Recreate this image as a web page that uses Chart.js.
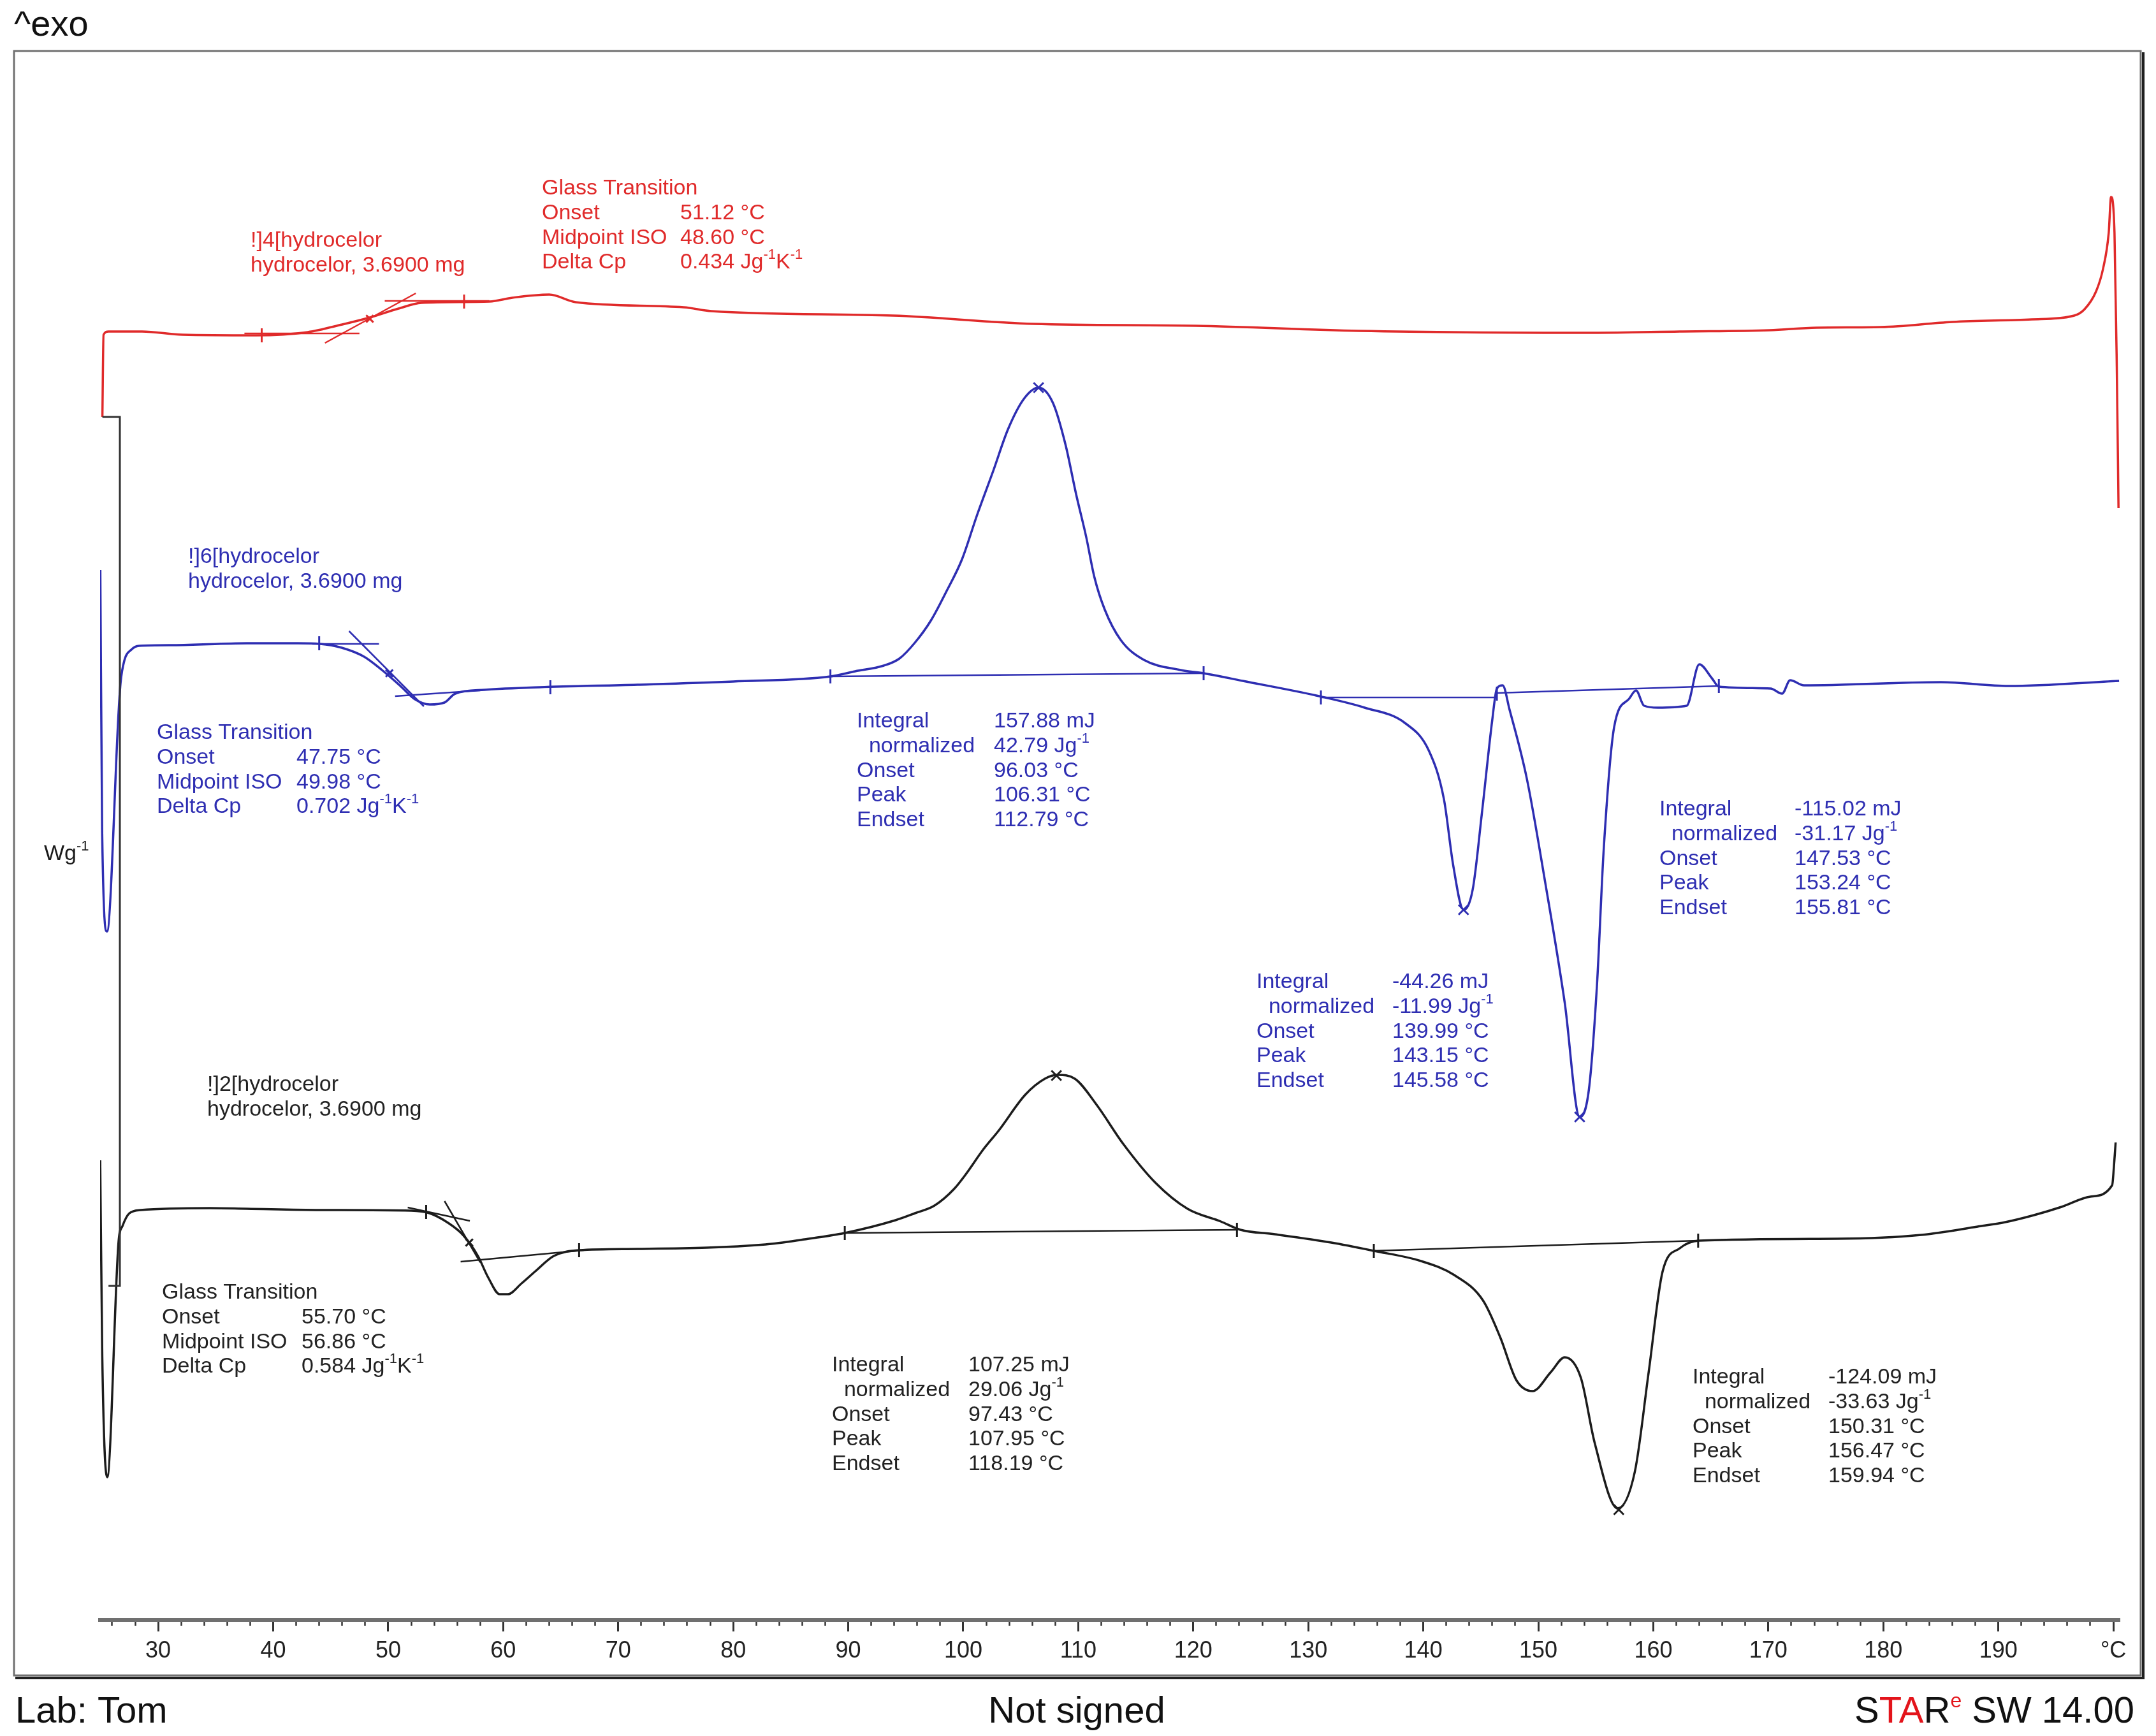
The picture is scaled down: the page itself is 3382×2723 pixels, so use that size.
<!DOCTYPE html>
<html>
<head>
<meta charset="utf-8">
<title>DSC hydrocelor</title>
<script src="https://cdn.jsdelivr.net/npm/chart.js@4.4.1/dist/chart.umd.min.js"></script>
<style>
  html, body { margin: 0; padding: 0; background: #fff; }
  canvas { display: block; }
</style>
</head>
<body>
<canvas id="dsc" width="3382" height="2723"></canvas>
<script>
// temperature axis (°C)
const X_MIN = 24.95;
const X_MAX = 200.55;
const MAJOR_TICKS = [30, 40, 50, 60, 70, 80, 90, 100, 110, 120, 130, 140, 150, 160, 170, 180, 190, 200];
const TICK_LABELS = ['30', '40', '50', '60', '70', '80', '90', '100', '110', '120', '130', '140', '150', '160', '170', '180', '190', '°C'];

// 1. red run (!]4)
const RED_T = [25.15, 25.25, 25.68, 28.6, 32.1, 38.5, 43.0, 46.0, 48.4, 50.9,
               52.9, 58.8, 60.8, 64.0, 66.3, 75.7, 78.1, 93.9, 106.1, 120.2,
               134.4, 154.8, 162.3, 170.1, 174.2, 179.8, 186.0, 192.9, 196.6, 197.5,
               198.5, 199.1, 199.6, 199.8, 200.1, 200.3, 200.45];
const RED_HF = [9.435, 10.08, 10.105, 10.105, 10.08, 10.075, 10.10, 10.16, 10.215, 10.285,
                10.33, 10.34, 10.37, 10.395, 10.335, 10.295, 10.265, 10.23, 10.165, 10.15,
                10.11, 10.095, 10.105, 10.115, 10.135, 10.14, 10.18, 10.20, 10.23, 10.28,
                10.42, 10.595, 10.88, 11.16, 10.88, 9.83, 8.72];

// 2. blue run (!]6)
const BLUE_T = [24.97, 25.13, 25.55, 26.56, 26.73, 27.06, 27.67, 28.34, 31.33, 37.7,
                42.14, 44.08, 45.96, 47.9, 49.46, 51.06, 52.34, 53.61, 54.89, 55.83,
                58.38, 63.15, 71.69, 80.0, 88.45, 90.6, 93.1, 94.45, 95.8, 97.2,
                98.5, 99.9, 101.2, 102.6, 103.9, 105.3, 106.55, 107.8, 108.9, 109.8,
                110.7, 111.4, 112.3, 113.7, 115.7, 118.9, 120.9, 124.3, 130.7, 134.9,
                138.4, 140.5, 141.8, 142.6, 143.5, 144.3, 145.1, 146.0, 146.4, 146.9,
                147.5, 149.0, 150.6, 152.3, 153.6, 154.4, 155.1, 155.7, 156.6, 157.9,
                158.5, 159.2, 160.4, 162.9, 164.0, 165.1, 165.7, 170.2, 171.2, 171.9,
                173.1, 185.0, 190.9, 200.5];
const BLUE_HF = [8.235, 6.175, 5.40, 7.12, 7.35, 7.525, 7.61, 7.64, 7.645, 7.66,
                 7.66, 7.655, 7.625, 7.555, 7.45, 7.325, 7.22, 7.18, 7.195, 7.265,
                 7.295, 7.315, 7.335, 7.36, 7.40, 7.44, 7.485, 7.54, 7.665, 7.84,
                 8.06, 8.32, 8.665, 9.01, 9.34, 9.58, 9.665, 9.545, 9.215, 8.835,
                 8.49, 8.18, 7.925, 7.685, 7.53, 7.45, 7.425, 7.365, 7.25, 7.155,
                 7.035, 6.815, 6.435, 5.92, 5.57, 5.73, 6.33, 7.06, 7.305, 7.33,
                 7.14, 6.60, 5.785, 4.84, 3.945, 4.16, 4.975, 6.06, 7.005, 7.225,
                 7.29, 7.17, 7.155, 7.17, 7.495, 7.385, 7.32, 7.305, 7.265, 7.37,
                 7.33, 7.355, 7.325, 7.365];

// 3. black run (!]2)
const BLACK_T = [24.96, 25.14, 25.57, 26.56, 26.9, 27.5, 28.48, 34.5, 37.7, 44.1,
                 52.0, 53.6, 55.2, 56.5, 57.8, 58.7, 59.7, 60.4, 61.6, 62.8,
                 64.4, 66.6, 71.7, 82.8, 86.2, 89.7, 94.1, 95.8, 97.5, 99.2,
                 100.3, 101.7, 103.1, 105.4, 107.1, 108.2, 109.7, 111.6, 113.9, 116.7,
                 119.5, 122.4, 124.1, 127.1, 132.0, 135.7, 139.8, 142.7, 145.2, 146.7,
                 148.1, 149.5, 151.1, 152.3, 153.7, 154.9, 156.9, 158.4, 159.6, 160.8,
                 162.3, 164.0, 176.0, 183.3, 188.2, 190.6, 193.1, 195.5, 198.0, 199.9,
                 200.05, 200.2];
const BLACK_HF = [3.605, 2.065, 1.12, 2.97, 3.09, 3.19, 3.215, 3.23, 3.225, 3.215,
                  3.21, 3.19, 3.115, 3.02, 2.855, 2.685, 2.555, 2.555, 2.64, 2.735,
                  2.855, 2.90, 2.91, 2.945, 2.985, 3.035, 3.135, 3.19, 3.25, 3.38,
                  3.505, 3.685, 3.84, 4.12, 4.245, 4.275, 4.245, 4.04, 3.735, 3.43,
                  3.225, 3.125, 3.06, 3.025, 2.96, 2.895, 2.815, 2.705, 2.505, 2.215,
                  1.88, 1.795, 1.945, 2.06, 1.90, 1.39, 0.875, 1.165, 1.945, 2.73,
                  2.915, 2.975, 2.99, 3.02, 3.085, 3.12, 3.175, 3.24, 3.32, 3.41,
                  3.555, 3.745];

// evaluation lines: [T1, HF1, T2, HF2]
const RED_TANGENTS = [[37.5, 10.09, 47.5, 10.09], [44.5, 10.015, 52.4, 10.405], [49.7, 10.345, 58.8, 10.345]];
const BLUE_TANGENTS = [[43.4, 7.655, 49.2, 7.655], [46.6, 7.755, 53.1, 7.165], [50.6, 7.245, 58.0, 7.29],
                       [88.45, 7.40, 120.9, 7.425], [131.1, 7.235, 146.4, 7.235], [146.4, 7.27, 165.7, 7.325]];
const BLACK_TANGENTS = [[51.7, 3.235, 57.1, 3.13], [54.9, 3.285, 58.0, 2.805], [56.3, 2.81, 67.0, 2.90],
                        [89.7, 3.035, 123.8, 3.06], [135.7, 2.895, 163.9, 2.975]];

// limit flags
const RED_FLAG_T = [39.0, 56.6];
const RED_FLAG_HF = [10.075, 10.34];
const BLUE_FLAG_T = [44.0, 64.1, 88.45, 120.9, 131.1, 146.4, 165.7];
const BLUE_FLAG_HF = [7.66, 7.315, 7.40, 7.425, 7.235, 7.265, 7.325];
const BLACK_FLAG_T = [53.3, 66.6, 89.7, 123.8, 135.7, 163.9];
const BLACK_FLAG_HF = [3.20, 2.90, 3.035, 3.06, 2.895, 2.975];

// peaks and glass transition midpoints
const BLUE_PEAK_T = [106.55, 143.5, 153.6];
const BLUE_PEAK_HF = [9.665, 5.57, 3.945];
const BLACK_PEAK_T = [108.1, 157.0];
const BLACK_PEAK_HF = [4.27, 0.865];
const MID_T = [48.4, 50.1, 57.05];
const MID_HF = [10.205, 7.425, 2.96];

// Wg-1 scale bar: temperature, top, bottom
const BAR = [26.67, 9.435, 2.62];

// annotation texts
const GT_LABELS = ['Glass Transition', 'Onset', 'Midpoint ISO', 'Delta Cp'];
const PEAK_LABELS = ['Integral', '  normalized', 'Onset', 'Peak', 'Endset'];
const RED_GT = ['', '51.12 °C', '48.60 °C', '0.434 Jg^-1K^-1'];
const BLUE_GT = ['', '47.75 °C', '49.98 °C', '0.702 Jg^-1K^-1'];
const BLACK_GT = ['', '55.70 °C', '56.86 °C', '0.584 Jg^-1K^-1'];
const BLUE_PEAK1 = ['157.88 mJ', '42.79 Jg^-1', '96.03 °C', '106.31 °C', '112.79 °C'];
const BLUE_PEAK2 = ['-44.26 mJ', '-11.99 Jg^-1', '139.99 °C', '143.15 °C', '145.58 °C'];
const BLUE_PEAK3 = ['-115.02 mJ', '-31.17 Jg^-1', '147.53 °C', '153.24 °C', '155.81 °C'];
const BLACK_PEAK1 = ['107.25 mJ', '29.06 Jg^-1', '97.43 °C', '107.95 °C', '118.19 °C'];
const BLACK_PEAK2 = ['-124.09 mJ', '-33.63 Jg^-1', '150.31 °C', '156.47 °C', '159.94 °C'];

const RED = '#e02a2a';
const BLUE = '#2e2eb2';
const BLACK = '#1c1c1c';
const FAMILY = '"Liberation Sans", Arial, sans-serif';

function pts(T, HF) {
    return T.map((t, i) => ({ x: t, y: HF[i] }));
}

function curve(T, HF, color) {
    return { data: pts(T, HF), showLine: true, borderColor: color, borderWidth: 3.5,
             pointRadius: 0, cubicInterpolationMode: 'monotone', fill: false };
}

function segments(list, color) {
    return list.map(s => ({ data: [{ x: s[0], y: s[1] }, { x: s[2], y: s[3] }], showLine: true,
                            borderColor: color, borderWidth: 2.5, pointRadius: 0, tension: 0 }));
}

function marks(T, HF, color, style, r) {
    return { data: pts(T, HF), showLine: false, pointStyle: style, rotation: style === 'line' ? 90 : 0,
             pointRadius: r, pointBorderColor: color, pointBorderWidth: 3, pointBackgroundColor: color };
}

// text with ^-1 style superscripts
function richText(ctx, str, x, y, size) {
    const parts = str.split(/\^(-?\d)/);
    let cx = x;
    parts.forEach((p, i) => {
        if (!p) return;
        if (i % 2) {
            ctx.font = Math.round(size * 0.65) + 'px ' + FAMILY;
            ctx.fillText(p, cx, y - size * 0.35);
        } else {
            ctx.font = size + 'px ' + FAMILY;
            ctx.fillText(p, cx, y);
        }
        cx += ctx.measureText(p).width;
    });
}

function block(ctx, color, x, vx, y, labels, values) {
    ctx.fillStyle = color;
    labels.forEach((l, i) => {
        const yy = y + i * 38.7;
        richText(ctx, l, x, yy, 34);
        if (values && values[i]) richText(ctx, values[i], vx, yy, 34);
    });
}

const dscDecor = {
    id: 'dscDecor',
    beforeDraw(chart) {
        const c = chart.ctx;
        c.save();
        c.fillStyle = '#fff';
        c.fillRect(0, 0, chart.width, chart.height);
        c.restore();
    },
    afterDraw(chart) {
        const c = chart.ctx;
        const xs = chart.scales.x, ys = chart.scales.y;
        c.save();

        // frame with shadow
        c.strokeStyle = '#707070';
        c.lineWidth = 3;
        c.strokeRect(22, 80, 3336, 2548);
        c.strokeStyle = '#1f1f1f';
        c.lineWidth = 4;
        c.beginPath();
        c.moveTo(24, 2632);
        c.lineTo(3362, 2632);
        c.lineTo(3362, 82);
        c.stroke();

        // Wg-1 scale bar
        const bx = xs.getPixelForValue(BAR[0]);
        const by1 = ys.getPixelForValue(BAR[1]);
        const by2 = ys.getPixelForValue(BAR[2]);
        c.strokeStyle = '#333';
        c.lineWidth = 3;
        c.beginPath();
        c.moveTo(xs.getPixelForValue(RED_T[0]), by1);
        c.lineTo(bx, by1);
        c.lineTo(bx, by2);
        c.lineTo(xs.getPixelForValue(25.68), by2);
        c.stroke();

        c.textBaseline = 'middle';
        c.textAlign = 'left';
        c.fillStyle = '#1a1a1a';
        richText(c, 'Wg^-1', 69, 1340, 34);

        // sample names and evaluations
        block(c, RED, 393, 0, 378, ['!]4[hydrocelor', 'hydrocelor, 3.6900 mg']);
        block(c, RED, 850, 1067, 296, GT_LABELS, RED_GT);
        block(c, BLUE, 295, 0, 874, ['!]6[hydrocelor', 'hydrocelor, 3.6900 mg']);
        block(c, BLUE, 246, 465, 1150, GT_LABELS, BLUE_GT);
        block(c, BLUE, 1344, 1559, 1132, PEAK_LABELS, BLUE_PEAK1);
        block(c, BLUE, 1971, 2184, 1541, PEAK_LABELS, BLUE_PEAK2);
        block(c, BLUE, 2603, 2815, 1270, PEAK_LABELS, BLUE_PEAK3);
        block(c, '#222', 325, 0, 1702, ['!]2[hydrocelor', 'hydrocelor, 3.6900 mg']);
        block(c, '#222', 254, 473, 2028, GT_LABELS, BLACK_GT);
        block(c, '#222', 1305, 1519, 2142, PEAK_LABELS, BLACK_PEAK1);
        block(c, '#222', 2655, 2868, 2161, PEAK_LABELS, BLACK_PEAK2);

        // header / footer
        c.textBaseline = 'alphabetic';
        c.fillStyle = '#111';
        c.font = '56px ' + FAMILY;
        c.fillText('^exo', 22, 56);
        c.font = '58px ' + FAMILY;
        c.fillText('Lab: Tom', 24, 2702);
        c.textAlign = 'center';
        c.fillText('Not signed', 1689, 2702);
        c.textAlign = 'left';

        const big = '58px ' + FAMILY, small = '32px ' + FAMILY;
        const parts = [['S', '#111', big, 0], ['TA', '#e3141b', big, 0], ['R', '#111', big, 0],
                       ['e', '#e3141b', small, -24], [' SW 14.00', '#111', big, 0]];
        let total = 0;
        parts.forEach(p => { c.font = p[2]; total += c.measureText(p[0]).width; });
        let px = 3348 - total;
        parts.forEach(p => {
            c.font = p[2];
            c.fillStyle = p[1];
            c.fillText(p[0], px, 2702 + p[3]);
            px += c.measureText(p[0]).width;
        });
        c.restore();
    }
};

const minorTicks = [];
for (let t = 26; t <= 200; t += 2) minorTicks.push(t);

new Chart(document.getElementById('dsc'), {
    type: 'scatter',
    data: {
        datasets: [
            curve(RED_T, RED_HF, RED),
            curve(BLUE_T, BLUE_HF, BLUE),
            curve(BLACK_T, BLACK_HF, BLACK),
            ...segments(RED_TANGENTS, RED),
            ...segments(BLUE_TANGENTS, BLUE),
            ...segments(BLACK_TANGENTS, BLACK),
            marks(RED_FLAG_T, RED_FLAG_HF, RED, 'line', 11),
            marks(BLUE_FLAG_T, BLUE_FLAG_HF, BLUE, 'line', 11),
            marks(BLACK_FLAG_T, BLACK_FLAG_HF, BLACK, 'line', 11),
            marks(BLUE_PEAK_T, BLUE_PEAK_HF, BLUE, 'crossRot', 11),
            marks(BLACK_PEAK_T, BLACK_PEAK_HF, BLACK, 'crossRot', 11),
            marks(MID_T.slice(0, 1), MID_HF.slice(0, 1), RED, 'crossRot', 8),
            marks(MID_T.slice(1, 2), MID_HF.slice(1, 2), BLUE, 'crossRot', 8),
            marks(MID_T.slice(2), MID_HF.slice(2), BLACK, 'crossRot', 8)
        ]
    },
    options: {
        responsive: false,
        devicePixelRatio: 1,
        animation: false,
        events: [],
        layout: { padding: { left: 157, right: 57, top: 80, bottom: 0 } },
        plugins: { legend: { display: false }, tooltip: { enabled: false } },
        scales: {
            xMinor: {
                type: 'linear', position: 'bottom', weight: 0, min: X_MIN, max: X_MAX,
                afterBuildTicks: a => { a.ticks = minorTicks.map(v => ({ value: v })); },
                afterFit: a => { a.height = 0; },
                border: { display: false },
                grid: { drawOnChartArea: false, drawTicks: true, tickLength: 9, tickColor: '#333', tickWidth: 2.5 },
                ticks: { display: false }
            },
            x: {
                type: 'linear', position: 'bottom', weight: 1, min: X_MIN, max: X_MAX,
                afterBuildTicks: a => { a.ticks = MAJOR_TICKS.map(v => ({ value: v })); },
                afterFit: a => { a.height = 182; },
                border: { display: true, color: '#707070', width: 6 },
                grid: { drawOnChartArea: false, drawTicks: true, tickLength: 18, tickColor: '#333', tickWidth: 3 },
                ticks: {
                    autoSkip: false, maxRotation: 0, padding: 9, color: '#222',
                    font: { family: 'Liberation Sans', size: 36 },
                    callback: v => TICK_LABELS[MAJOR_TICKS.indexOf(v)]
                }
            },
            y: { type: 'linear', min: 0, max: 12.305, display: false }
        }
    },
    plugins: [dscDecor]
});
</script>
</body>
</html>
